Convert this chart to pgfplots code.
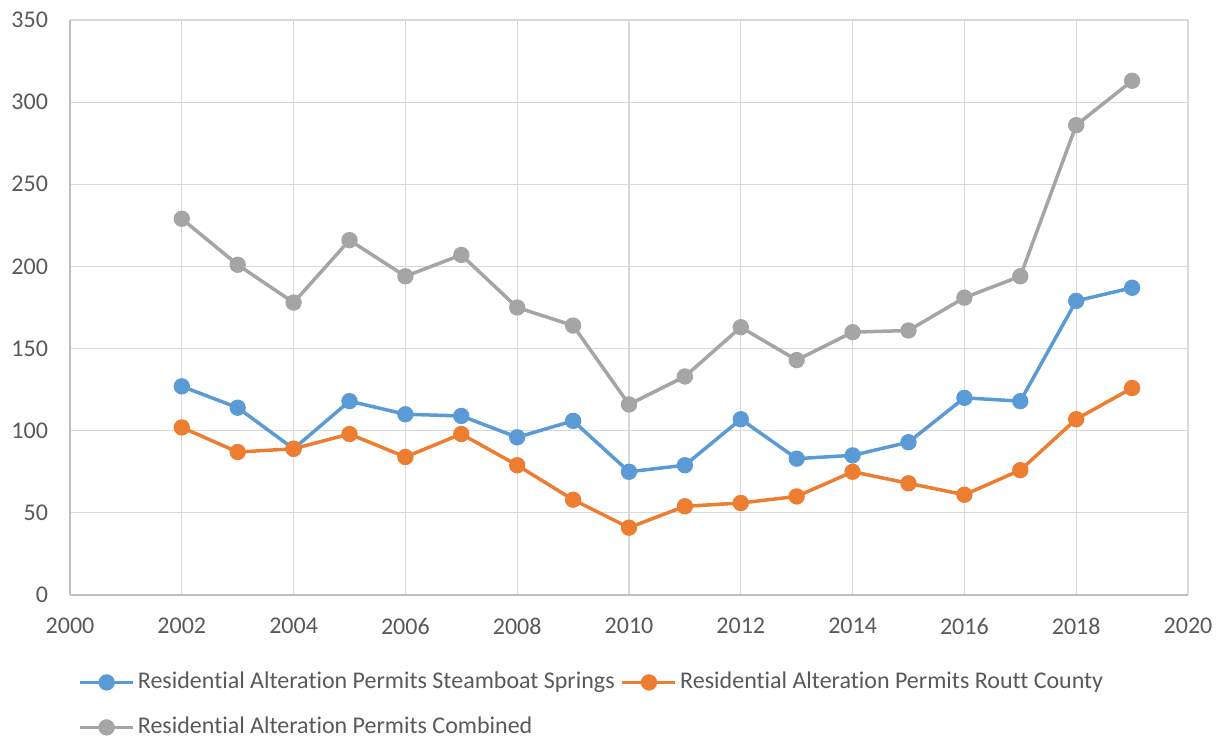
\documentclass[border=0pt]{standalone}
\usepackage{fontspec}
\setmainfont[Ligatures=NoCommon]{Carlito}
\usepackage{pgfplots}
\pgfplotsset{compat=1.18}
\definecolor{sblue}{HTML}{5B9BD5}
\definecolor{sorange}{HTML}{ED7D31}
\definecolor{sgray}{HTML}{A5A5A5}
\definecolor{gridc}{HTML}{D9D9D9}
\definecolor{axc}{HTML}{BFBFBF}
\definecolor{txt}{HTML}{595959}
\begin{document}
\begin{tikzpicture}
\path[use as bounding box] (-35pt,-72.5pt) rectangle (576.5pt,297.5pt);
\begin{axis}[
  at={(0,0)}, anchor=south west, scale only axis,
  width=559pt, height=287.5pt,
  xmin=2000, xmax=2020, ymin=0, ymax=350,
  xtick distance=2, ytick distance=50,
  grid=major, major grid style={draw=gridc, line width=0.6pt},
  axis x line*=bottom, axis y line*=left,
  axis line style={draw=axc, line width=0.8pt, -},
  major tick length=0pt,
  tick label style={font=\fontsize{12}{14}\selectfont, text=txt},
  /pgf/number format/assume math mode=true,
  /pgf/number format/1000 sep={},
  yticklabel style={xshift=-7.5pt},
  xticklabel style={yshift=-8pt},
  clip=false,
  legend columns=2,
  legend cell align=left,
  legend style={at={(axis description cs:0.00716,-0.127)}, anchor=north west,
    draw=none, fill=none, inner sep=0pt,
    font=\fontsize{12}{14}\selectfont, text=txt,
    nodes={text height=8.5pt, text depth=2.5pt, inner sep=1.5pt},
    row sep=8.5pt,
    /tikz/every even column/.append style={column sep=1.5pt}},
  legend image code/.code={
    \draw[#1, mark=none] (0pt,0pt) -- (26.5pt,0pt);
    \draw[#1, only marks] plot coordinates {(13.25pt,0pt)};
  },
  every axis plot/.append style={line width=1.75pt, mark=*, mark size=3.2pt},
]
\addplot[sblue, mark options={solid, fill=sblue, draw=sblue}] coordinates {
(2002,127) (2003,114) (2004,89) (2005,118) (2006,110) (2007,109) (2008,96) (2009,106) (2010,75)
(2011,79) (2012,107) (2013,83) (2014,85) (2015,93) (2016,120) (2017,118) (2018,179) (2019,187)};
\addlegendentry{Residential Alteration Permits Steamboat Springs}
\addplot[sorange, mark options={solid, fill=sorange, draw=sorange}] coordinates {
(2002,102) (2003,87) (2004,89) (2005,98) (2006,84) (2007,98) (2008,79) (2009,58) (2010,41)
(2011,54) (2012,56) (2013,60) (2014,75) (2015,68) (2016,61) (2017,76) (2018,107) (2019,126)};
\addlegendentry{Residential Alteration Permits Routt County}
\addplot[sgray, mark options={solid, fill=sgray, draw=sgray}] coordinates {
(2002,229) (2003,201) (2004,178) (2005,216) (2006,194) (2007,207) (2008,175) (2009,164) (2010,116)
(2011,133) (2012,163) (2013,143) (2014,160) (2015,161) (2016,181) (2017,194) (2018,286) (2019,313)};
\addlegendentry{Residential Alteration Permits Combined}
\end{axis}
\end{tikzpicture}
\end{document}
